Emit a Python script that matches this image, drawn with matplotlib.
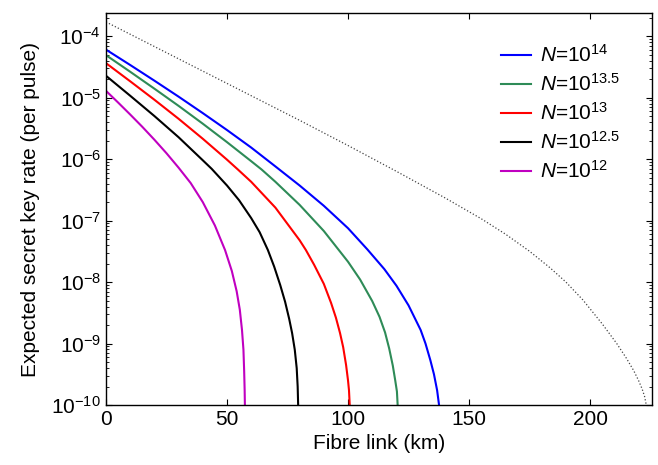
import numpy as np
import matplotlib
matplotlib.use("Agg")
import matplotlib.pyplot as plt

plt.rcParams['font.family'] = ['Liberation Sans', 'DejaVu Sans']
plt.rcParams['mathtext.fontset'] = 'custom'
plt.rcParams['mathtext.rm'] = 'Liberation Sans'
plt.rcParams['mathtext.it'] = 'Liberation Sans:italic'

# distance (km) and log10 of key rate per pulse
km_14 = [0, 10, 20, 30, 40, 50, 60, 70, 80, 90, 100, 108, 115, 120, 125,
         130, 132, 134, 135.5, 136.8, 137.6]
lg_14 = [-4.22, -4.47, -4.725, -4.985, -5.253, -5.528, -5.813, -6.12, -6.43,
         -6.76, -7.125, -7.47, -7.79, -8.06, -8.38, -8.78, -9.0, -9.27, -9.5,
         -9.76, -10.0]

km_135 = [0, 10, 20, 30, 40, 50, 60, 64.3, 70, 80, 90, 96, 100, 105, 110,
          113, 115.3, 117, 118.5, 119.5, 120.2, 120.5]
lg_135 = [-4.31, -4.58, -4.855, -5.135, -5.425, -5.725, -6.035, -6.17, -6.37,
          -6.745, -7.17, -7.47, -7.67, -7.96, -8.31, -8.565, -8.82, -9.08,
          -9.36, -9.6, -9.78, -10.0]

km_13 = [0, 10, 20, 30, 40, 50, 54.5, 60, 70, 80, 82.6, 86, 90, 93, 95,
         96.7, 98, 99.2, 100, 100.4, 100.7]
lg_13 = [-4.44, -4.735, -5.035, -5.345, -5.67, -6.01, -6.17, -6.37, -6.79,
         -7.32, -7.48, -7.72, -8.03, -8.34, -8.58, -8.83, -9.06, -9.35, -9.6,
         -9.76, -10.0]

km_125 = [0, 10, 20, 30, 40, 43.7, 50, 55, 60, 63.5, 66.9, 69.5, 72, 74,
          75.7, 76.9, 78, 78.8, 79.2, 79.4]
lg_125 = [-4.645, -4.97, -5.30, -5.645, -6.02, -6.16, -6.43, -6.67, -6.96,
          -7.19, -7.48, -7.75, -8.05, -8.32, -8.6, -8.83, -9.1, -9.4, -9.7,
          -10.0]

km_12 = [0, 5, 10, 15, 20, 25, 30, 35, 40, 45, 49.2, 52, 54, 55.3, 56.2,
         56.8, 57.1, 57.3, 57.4]
lg_12 = [-4.89, -5.08, -5.275, -5.475, -5.685, -5.905, -6.14, -6.39, -6.7,
         -7.08, -7.48, -7.82, -8.15, -8.45, -8.78, -9.1, -9.45, -9.76, -10.0]

# dotted reference curve
km_ref = [0, 20, 40, 60, 80, 100, 120, 140, 155, 165, 175, 183.5, 190, 197,
          205, 211, 215, 218, 220, 221.5, 222.5, 223.2]
lg_ref = [-3.77, -4.17, -4.57, -4.97, -5.37, -5.78, -6.20, -6.63, -6.97,
          -7.22, -7.50, -7.77, -8.0, -8.29, -8.68, -9.0, -9.24, -9.44, -9.6,
          -9.74, -9.86, -10.0]

labels = [r'$N$=10$^{14}$', r'$N$=10$^{13.5}$', r'$N$=10$^{13}$',
          r'$N$=10$^{12.5}$', r'$N$=10$^{12}$']
colors = ['#0000ff', '#2e8b57', '#ff0000', '#000000', '#c000c0']

fig = plt.figure(figsize=(6.58, 4.65), dpi=100)
ax = fig.add_axes([0.161, 0.129, 0.830, 0.843])

ax.plot(km_ref, 10 ** np.array(lg_ref), color='#444444', ls=':', lw=0.9)
for k, l, c, lab in zip([km_14, km_135, km_13, km_125, km_12],
                        [lg_14, lg_135, lg_13, lg_125, lg_12], colors, labels):
    ax.plot(k, 10 ** np.array(l), color=c, lw=1.5, label=lab)

ax.set_yscale('log')
ax.set_xlim(0, 225.6)
ax.set_ylim(1e-10, 2.37e-4)
ax.set_xticks([0, 50, 100, 150, 200])
ax.set_yticks([1e-10, 1e-9, 1e-8, 1e-7, 1e-6, 1e-5, 1e-4])
ax.tick_params(which='both', direction='in', top=True, right=True, labelsize=15)
ax.tick_params(which='major', length=4)
ax.tick_params(which='minor', length=2)
for s in ax.spines.values():
    s.set_linewidth(1.0)

ax.set_xlabel('Fibre link (km)', fontsize=15)
ax.set_ylabel('Expected secret key rate (per pulse)', fontsize=15, labelpad=8)

ax.legend(loc='upper right', frameon=False, fontsize=15, handlelength=1.45,
          handletextpad=0.4, labelspacing=0.34, bbox_to_anchor=(0.976, 0.968))

fig.savefig('out.png', dpi=100)
